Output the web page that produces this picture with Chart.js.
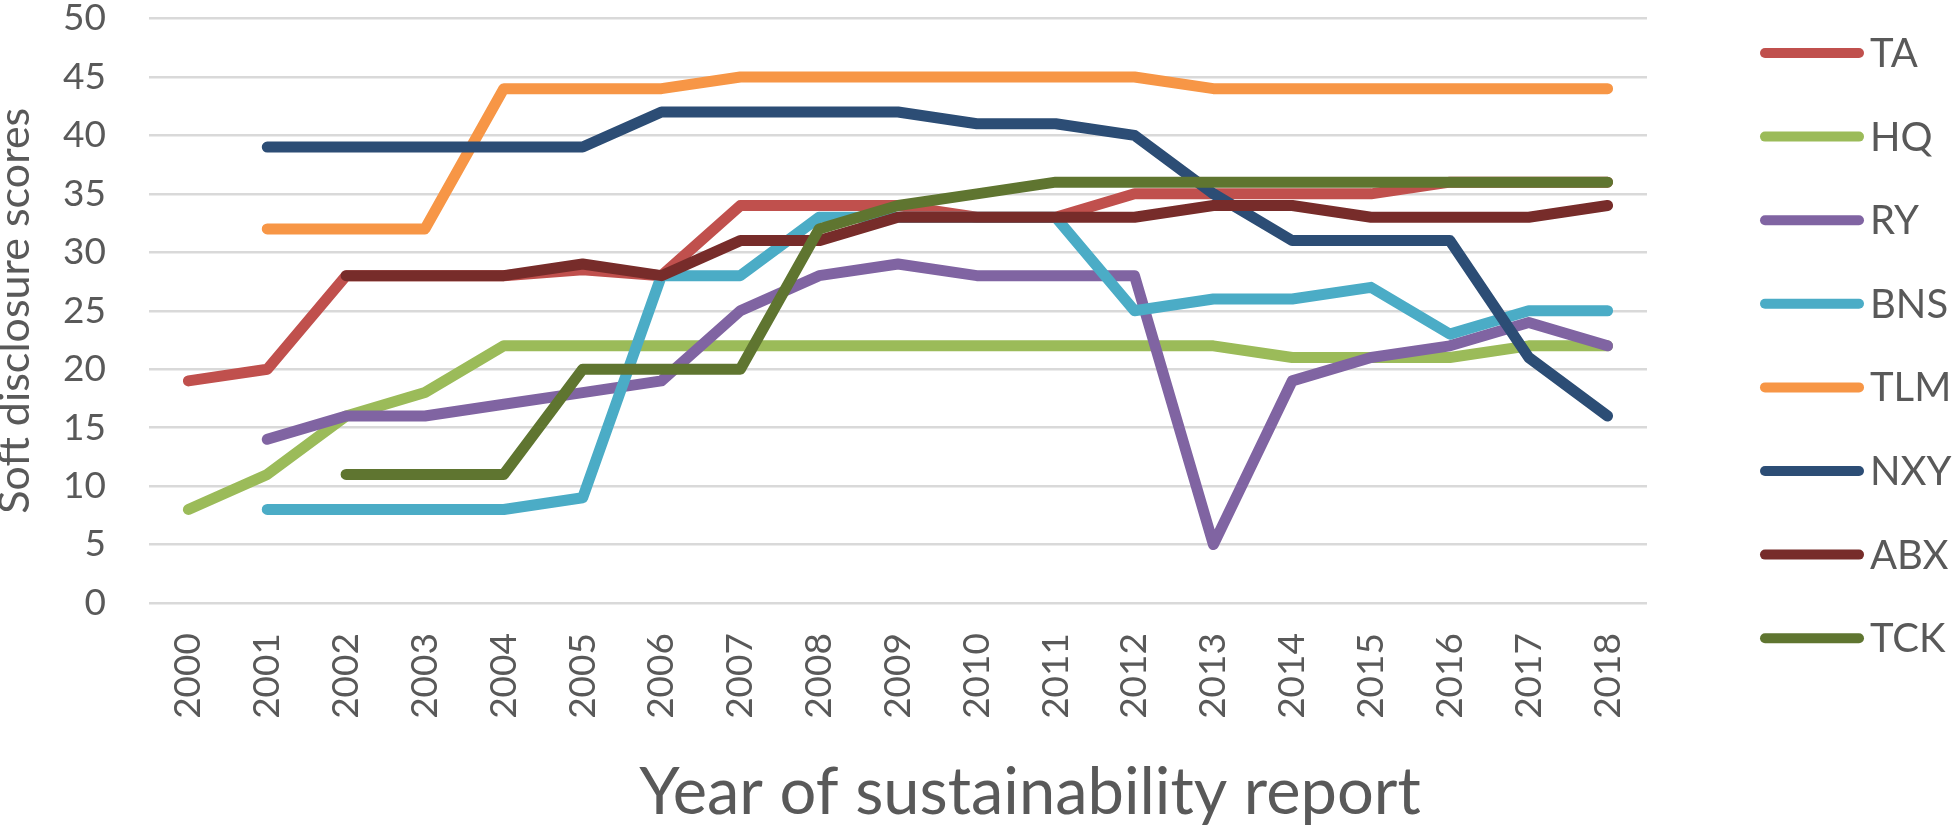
<!DOCTYPE html>
<html>
<head>
<meta charset="utf-8">
<script src="https://cdn.jsdelivr.net/npm/chart.js@4.4.1/dist/chart.umd.min.js"></script>
<style>
  html, body { margin: 0; padding: 0; background: #ffffff; }
  #wrap { width: 1952px; height: 828px; position: relative; }
</style>
</head>
<body>
<div id="wrap"><canvas id="c"></canvas></div>
<script>
// ---- data ----
const years = ['2000','2001','2002','2003','2004','2005','2006','2007','2008','2009','2010','2011','2012','2013','2014','2015','2016','2017','2018'];
const seriesNames = ['TA','HQ','RY','BNS','TLM','NXY','ABX','TCK'];
const TA  = [19, 20, 28, 28, 28, 28.5, 28, 34, 34, 34, 33, 33, 35, 35, 35, 35, 36, 36, 36];
const HQ  = [8, 11, 16, 18, 22, 22, 22, 22, 22, 22, 22, 22, 22, 22, 21, 21, 21, 22, 22];
const RY  = [null, 14, 16, 16, 17, 18, 19, 25, 28, 29, 28, 28, 28, 5, 19, 21, 22, 24, 22];
const BNS = [null, 8, 8, 8, 8, 9, 28, 28, 33, 33, 33, 33, 25, 26, 26, 27, 23, 25, 25];
const TLM = [null, 32, 32, 32, 44, 44, 44, 45, 45, 45, 45, 45, 45, 44, 44, 44, 44, 44, 44];
const NXY = [null, 39, 39, 39, 39, 39, 42, 42, 42, 42, 41, 41, 40, 35, 31, 31, 31, 21, 16];
const ABX = [null, null, 28, 28, 28, 29, 28, 31, 31, 33, 33, 33, 33, 34, 34, 33, 33, 33, 34];
const TCK = [null, null, 11, 11, 11, 20, 20, 20, 32, 34, 35, 36, 36, 36, 36, 36, 36, 36, 36];
const yTicks = [0, 5, 10, 15, 20, 25, 30, 35, 40, 45, 50];
const yTitle = 'Soft disclosure scores';
const xTitle = 'Year of sustainability report';

// ---- styles ----
const colors = ['#C0504D', '#9BBB59', '#8064A2', '#4BACC6', '#F79646', '#2C4D75', '#772C2A', '#5F7530'];
const allValues = [TA, HQ, RY, BNS, TLM, NXY, ABX, TCK];
const TEXT = '#595959';
const FONT = 'Lato';

const datasets = seriesNames.map((name, i) => ({
  label: name,
  data: allValues[i],
  borderColor: colors[i],
  backgroundColor: colors[i],
  borderWidth: 11,
  borderCapStyle: 'round',
  borderJoinStyle: 'round',
  pointRadius: 0,
  pointHoverRadius: 0,
  tension: 0,
  fill: false,
  spanGaps: false,
  order: seriesNames.length - 1 - i
}));

const sideLegend = {
  id: 'sideLegend',
  afterDraw(chart) {
    const ctx = chart.ctx;
    ctx.save();
    chart.data.datasets.forEach((ds, i) => {
      const y = 53 + i * 83.6;
      ctx.strokeStyle = ds.borderColor;
      ctx.lineWidth = 10;
      ctx.lineCap = 'round';
      ctx.beginPath();
      ctx.moveTo(1765, y);
      ctx.lineTo(1859, y);
      ctx.stroke();
      ctx.fillStyle = TEXT;
      ctx.font = '40px ' + FONT;
      ctx.textAlign = 'left';
      ctx.textBaseline = 'middle';
      ctx.fillText(ds.label, 1870, y + 1);
    });
    ctx.restore();
  }
};

const xTitlePlugin = {
  id: 'xTitlePlugin',
  afterDraw(chart) {
    const ctx = chart.ctx;
    ctx.save();
    ctx.fillStyle = TEXT;
    ctx.font = '65px ' + FONT;
    ctx.textAlign = 'center';
    ctx.textBaseline = 'alphabetic';
    ctx.fillText(xTitle, 1030, 814);
    ctx.restore();
  }
};

new Chart(document.getElementById('c'), {
  type: 'line',
  data: { labels: years, datasets },
  options: {
    responsive: true,
    maintainAspectRatio: false,
    animation: false,
    devicePixelRatio: 1,
    layout: { padding: { left: 0, right: 305, top: 0, bottom: 0 } },
    plugins: { legend: { display: false }, tooltip: { enabled: false } },
    scales: {
      x: {
        type: 'category',
        offset: true,
        grid: { display: false, drawTicks: false },
        border: { display: false },
        ticks: {
          color: TEXT,
          font: { family: FONT, size: 37, lineHeight: 1 },
          minRotation: 90,
          maxRotation: 90,
          padding: 30,
          autoSkip: false
        },
        afterFit(scale) { scale.height = 225; }
      },
      y: {
        min: 0,
        max: 50,
        afterBuildTicks(scale) { scale.ticks = yTicks.map(v => ({ value: v })); },
        grid: { color: '#D9D9D9', lineWidth: 2.5, drawTicks: false },
        border: { display: false },
        ticks: {
          color: TEXT,
          font: { family: FONT, size: 37, lineHeight: 1 },
          padding: 43
        },
        title: {
          display: true,
          text: yTitle,
          color: TEXT,
          font: { family: FONT, size: 43, lineHeight: 1 },
          padding: { top: -6, bottom: 0 }
        },
        afterFit(scale) {
          scale.width = 149;
          scale.paddingTop = 18.5;
          scale.paddingBottom = 0;
        }
      }
    }
  },
  plugins: [sideLegend, xTitlePlugin]
});
</script>
</body>
</html>
